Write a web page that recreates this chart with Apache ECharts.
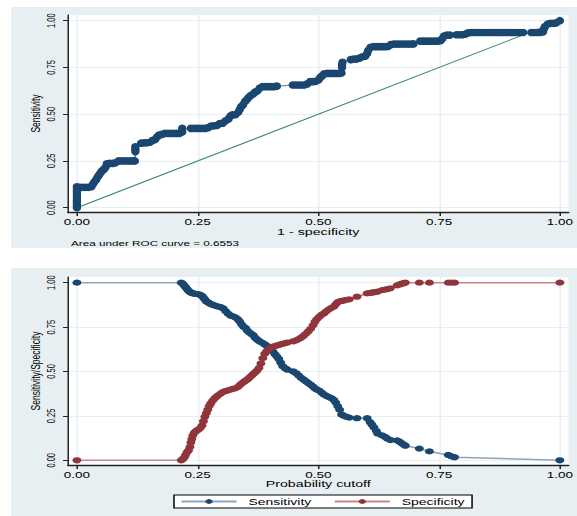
<!DOCTYPE html>
<html>
<head>
<meta charset="utf-8">
<script src="https://cdn.jsdelivr.net/npm/echarts@6/dist/echarts.min.js"></script>
<style>
  html, body { margin: 0; padding: 0; background: #fff; overflow: hidden; }
  /* the Stata export is stretched sideways, so the chart is drawn narrow and widened */
  #chart { width: 384.667px; height: 516px; transform: scaleX(1.5); transform-origin: 0 0; }
</style>
</head>
<body>
<div id="chart"></div>
<script>
const tickValues = [0, 0.25, 0.5, 0.75, 1];
const tickLabels = ['0.00', '0.25', '0.50', '0.75', '1.00'];

// ROC curve: 1 - specificity and sensitivity
const rocFpr = [
  0, 0, 0, 0, 0, 0, 0, 0, 0, 0,
  0.006, 0.012, 0.018, 0.024, 0.030, 0.033, 0.036, 0.040, 0.043, 0.046,
  0.049, 0.052, 0.056, 0.059, 0.062, 0.068, 0.074, 0.080, 0.086, 0.092,
  0.098, 0.104, 0.110, 0.116, 0.120, 0.121, 0.121, 0.121, 0.133, 0.139,
  0.145, 0.151, 0.157, 0.162, 0.166, 0.170, 0.176, 0.182, 0.188, 0.194,
  0.200, 0.206, 0.212, 0.218, 0.218, 0.218, 0.236, 0.242, 0.248, 0.254,
  0.260, 0.266, 0.272, 0.278, 0.284, 0.290, 0.296, 0.302, 0.308, 0.314,
  0.318, 0.322, 0.328, 0.334, 0.337, 0.340, 0.344, 0.348, 0.352, 0.356,
  0.360, 0.365, 0.369, 0.374, 0.379, 0.384, 0.390, 0.396, 0.402, 0.408,
  0.414, 0.447, 0.453, 0.459, 0.465, 0.471, 0.477, 0.483, 0.489, 0.495,
  0.501, 0.504, 0.508, 0.512, 0.518, 0.524, 0.530, 0.536, 0.542, 0.548,
  0.549, 0.549, 0.550, 0.567, 0.573, 0.579, 0.585, 0.591, 0.597, 0.601,
  0.603, 0.608, 0.614, 0.620, 0.626, 0.632, 0.638, 0.644, 0.650, 0.656,
  0.662, 0.668, 0.674, 0.680, 0.686, 0.692, 0.697, 0.711, 0.717, 0.723,
  0.729, 0.735, 0.741, 0.747, 0.753, 0.757, 0.760, 0.766, 0.772, 0.786,
  0.792, 0.798, 0.804, 0.810, 0.816, 0.822, 0.828, 0.834, 0.840, 0.846,
  0.852, 0.858, 0.864, 0.870, 0.876, 0.882, 0.888, 0.894, 0.900, 0.906,
  0.912, 0.918, 0.924, 0.941, 0.947, 0.953, 0.959, 0.965, 0.967, 0.969,
  0.975, 0.981, 0.987, 0.992, 1
];
const rocSens = [
  0, 0.012, 0.025, 0.037, 0.050, 0.062, 0.075, 0.087, 0.100, 0.112,
  0.109, 0.109, 0.109, 0.109, 0.112, 0.125, 0.137, 0.150, 0.165, 0.175,
  0.187, 0.197, 0.205, 0.215, 0.235, 0.237, 0.237, 0.240, 0.250, 0.250,
  0.250, 0.250, 0.250, 0.250, 0.250, 0.300, 0.312, 0.326, 0.345, 0.347,
  0.347, 0.350, 0.360, 0.365, 0.378, 0.388, 0.392, 0.397, 0.397, 0.397,
  0.397, 0.397, 0.397, 0.405, 0.415, 0.424, 0.424, 0.424, 0.424, 0.424,
  0.424, 0.424, 0.428, 0.437, 0.438, 0.440, 0.450, 0.452, 0.465, 0.475,
  0.490, 0.497, 0.497, 0.510, 0.525, 0.540, 0.550, 0.568, 0.578, 0.590,
  0.600, 0.608, 0.618, 0.625, 0.640, 0.647, 0.647, 0.647, 0.647, 0.647,
  0.650, 0.656, 0.656, 0.656, 0.656, 0.656, 0.662, 0.674, 0.674, 0.676,
  0.685, 0.697, 0.705, 0.716, 0.718, 0.718, 0.718, 0.718, 0.718, 0.720,
  0.750, 0.765, 0.778, 0.792, 0.795, 0.795, 0.800, 0.807, 0.810, 0.825,
  0.840, 0.858, 0.861, 0.861, 0.861, 0.861, 0.861, 0.862, 0.872, 0.875,
  0.875, 0.875, 0.875, 0.875, 0.875, 0.875, 0.876, 0.891, 0.891, 0.891,
  0.891, 0.891, 0.891, 0.891, 0.893, 0.905, 0.918, 0.923, 0.923, 0.925,
  0.925, 0.925, 0.928, 0.935, 0.937, 0.937, 0.937, 0.937, 0.937, 0.937,
  0.937, 0.937, 0.937, 0.937, 0.937, 0.937, 0.937, 0.937, 0.937, 0.937,
  0.937, 0.937, 0.937, 0.937, 0.937, 0.937, 0.937, 0.940, 0.955, 0.968,
  0.982, 0.986, 0.986, 0.988, 1
];
const refLine = [[0, 0], [1, 1]];
const aucText = 'Area under ROC curve = 0.6553';

// sensitivity / specificity by probability cutoff
const cutoff = [
  0, 0.216, 0.219, 0.222, 0.225, 0.228, 0.231, 0.234, 0.236, 0.238,
  0.240, 0.243, 0.247, 0.251, 0.255, 0.259, 0.262, 0.265, 0.268, 0.271,
  0.274, 0.277, 0.281, 0.285, 0.289, 0.293, 0.298, 0.303, 0.308, 0.313,
  0.318, 0.323, 0.328, 0.333, 0.337, 0.341, 0.345, 0.349, 0.353, 0.357,
  0.361, 0.365, 0.369, 0.373, 0.377, 0.381, 0.385, 0.389, 0.393, 0.397,
  0.402, 0.406, 0.410, 0.414, 0.418, 0.422, 0.426, 0.431, 0.436, 0.448,
  0.454, 0.459, 0.464, 0.469, 0.474, 0.479, 0.484, 0.489, 0.493, 0.497,
  0.502, 0.507, 0.512, 0.517, 0.522, 0.527, 0.532, 0.536, 0.540, 0.544,
  0.548, 0.553, 0.558, 0.564, 0.580, 0.601, 0.607, 0.611, 0.615, 0.620,
  0.623, 0.632, 0.638, 0.643, 0.649, 0.663, 0.668, 0.672, 0.677, 0.680,
  0.709, 0.730, 0.769, 0.776, 0.782, 1
];
const sensitivity = [
  1, 1, 0.995, 0.985, 0.975, 0.965, 0.955, 0.948, 0.945, 0.942,
  0.940, 0.938, 0.937, 0.935, 0.932, 0.926, 0.915, 0.905, 0.895, 0.890,
  0.885, 0.880, 0.876, 0.872, 0.868, 0.865, 0.862, 0.855, 0.840, 0.826,
  0.815, 0.810, 0.805, 0.795, 0.782, 0.765, 0.752, 0.745, 0.730, 0.720,
  0.712, 0.705, 0.690, 0.680, 0.672, 0.665, 0.660, 0.652, 0.645, 0.638,
  0.625, 0.612, 0.598, 0.585, 0.570, 0.550, 0.530, 0.518, 0.510, 0.500,
  0.490, 0.478, 0.465, 0.455, 0.445, 0.435, 0.425, 0.415, 0.405, 0.398,
  0.392, 0.380, 0.370, 0.362, 0.356, 0.350, 0.340, 0.325, 0.305, 0.285,
  0.258, 0.250, 0.245, 0.240, 0.237, 0.237, 0.215, 0.200, 0.185, 0.165,
  0.150, 0.140, 0.132, 0.122, 0.114, 0.112, 0.105, 0.097, 0.088, 0.082,
  0.066, 0.050, 0.030, 0.022, 0.017, 0
];
const specificity = [
  0, 0, 0.005, 0.015, 0.030, 0.045, 0.055, 0.075, 0.100, 0.120,
  0.140, 0.155, 0.165, 0.172, 0.180, 0.195, 0.220, 0.245, 0.265, 0.285,
  0.305, 0.320, 0.335, 0.348, 0.358, 0.367, 0.376, 0.385, 0.390, 0.394,
  0.398, 0.402, 0.405, 0.412, 0.422, 0.432, 0.440, 0.448, 0.455, 0.465,
  0.475, 0.485, 0.495, 0.505, 0.520, 0.545, 0.575, 0.600, 0.615, 0.625,
  0.635, 0.640, 0.643, 0.646, 0.650, 0.653, 0.656, 0.660, 0.663, 0.670,
  0.675, 0.682, 0.690, 0.700, 0.712, 0.725, 0.740, 0.760, 0.780, 0.795,
  0.808, 0.820, 0.828, 0.840, 0.850, 0.858, 0.865, 0.878, 0.890, 0.895,
  0.897, 0.900, 0.903, 0.906, 0.921, 0.940, 0.942, 0.944, 0.946, 0.948,
  0.950, 0.958, 0.961, 0.964, 0.968, 0.985, 0.990, 0.994, 0.997, 1,
  1, 1, 1, 1, 1, 1
];

const SX = 1.5;
const px = x => x / SX;
const FONT = '"Liberation Sans", Arial, Helvetica, sans-serif';
const BG = '#e8eff2';
const NAVY = '#1a476f';
const MAROON = '#90353b';
const AXIS = '#222';

function tickText(v) {
  const i = tickValues.indexOf(v);
  return i >= 0 ? tickLabels[i] : v.toFixed(2);
}

function xAxisOpt(gridIndex, name, nameGap) {
  return {
    type: 'value', gridIndex: gridIndex, min: -0.0185, max: 1.0178,
    name: name, nameLocation: 'middle', nameGap: nameGap, nameMoveOverlap: false,
    nameTextStyle: { fontFamily: FONT, fontSize: 9.5, color: '#000' },
    axisLine: { show: true, onZero: false, lineStyle: { color: AXIS, width: 1.4 } },
    axisTick: { show: true, length: 4, customValues: tickValues, lineStyle: { color: AXIS, width: 1 } },
    axisLabel: { customValues: tickValues, margin: 5, fontFamily: FONT, fontSize: 9, color: '#000', formatter: tickText },
    splitLine: { show: true, lineStyle: { color: BG, width: 1 } }
  };
}

function yAxisOpt(gridIndex, name, min, max) {
  return {
    type: 'value', gridIndex: gridIndex, min: min, max: max, position: 'left',
    name: name, nameLocation: 'middle', nameGap: 17, nameRotate: 90, nameMoveOverlap: false,
    nameTextStyle: { fontFamily: FONT, fontSize: 8.5, color: '#000' },
    axisLine: { show: true, onZero: false, lineStyle: { color: AXIS, width: 1 } },
    axisTick: { show: true, length: 3.3, customValues: tickValues, lineStyle: { color: AXIS, width: 1 } },
    axisLabel: { customValues: tickValues, rotate: 90, margin: 7.5, fontFamily: FONT, fontSize: 7.5, color: '#000', formatter: tickText },
    splitLine: { show: true, lineStyle: { color: BG, width: 1 } }
  };
}

const chart = echarts.init(document.getElementById('chart'), null, { renderer: 'svg' });

chart.setOption({
  backgroundColor: '#fff',
  animation: false,
  graphic: [
    { type: 'rect', z: -100, shape: { x: px(11), y: 7, width: px(566), height: 241 }, style: { fill: BG } },
    { type: 'rect', z: -100, shape: { x: px(11), y: 268, width: px(566), height: 248 }, style: { fill: BG } },
    { type: 'text', z: 10, style: { x: px(71), y: 243, text: aucText, fontFamily: FONT, fontSize: 7.8, fill: '#000', verticalAlign: 'middle' } }
  ],
  grid: [
    { left: px(68), top: 15, width: px(505), height: 197, show: true, backgroundColor: '#fff', borderWidth: 0 },
    { left: px(68), top: 277, width: px(505), height: 188, show: true, backgroundColor: '#fff', borderWidth: 0 }
  ],
  xAxis: [
    xAxisOpt(0, '1 - specificity', 14.5),
    xAxisOpt(1, 'Probability cutoff', 13.5)
  ],
  yAxis: [
    yAxisOpt(0, 'Sensitivity', -0.023, 1.0305),
    yAxisOpt(1, 'Sensitivity/Specificity', -0.0265, 1.032)
  ],
  legend: {
    data: ['Sensitivity', 'Specificity'],
    left: px(174), top: 495,
    padding: [2, 5, 2, 4],
    itemGap: px(22), itemWidth: px(55), itemHeight: 6,
    backgroundColor: '#fff', borderColor: '#000', borderWidth: 1,
    textStyle: { fontFamily: FONT, fontSize: 9.3, color: '#000', padding: [0, 0, 0, 3] },
    selectedMode: false
  },
  series: [
    {
      name: 'reference', type: 'line', xAxisIndex: 0, yAxisIndex: 0, data: refLine,
      symbol: 'none', silent: true, z: 2,
      lineStyle: { color: '#3d8b74', width: 1 }
    },
    {
      name: 'ROC', type: 'line', xAxisIndex: 0, yAxisIndex: 0,
      data: rocFpr.map((x, i) => [x, rocSens[i]]),
      symbol: 'circle', symbolSize: [5.6, 7.6], showAllSymbol: true, silent: true, z: 3,
      itemStyle: { color: NAVY },
      lineStyle: { color: '#7890a8', width: 1.2 }
    },
    {
      name: 'Sensitivity', type: 'line', xAxisIndex: 1, yAxisIndex: 1,
      data: cutoff.map((c, i) => [c, sensitivity[i]]),
      symbol: 'circle', symbolSize: [6, 6.2], showAllSymbol: true, silent: true, z: 3,
      itemStyle: { color: NAVY },
      lineStyle: { color: '#8ea4bb', width: 1.5 }
    },
    {
      name: 'Specificity', type: 'line', xAxisIndex: 1, yAxisIndex: 1,
      data: cutoff.map((c, i) => [c, specificity[i]]),
      symbol: 'circle', symbolSize: [6, 6.2], showAllSymbol: true, silent: true, z: 3,
      itemStyle: { color: MAROON },
      lineStyle: { color: '#c7868c', width: 1.5 }
    }
  ]
});
</script>
</body>
</html>
